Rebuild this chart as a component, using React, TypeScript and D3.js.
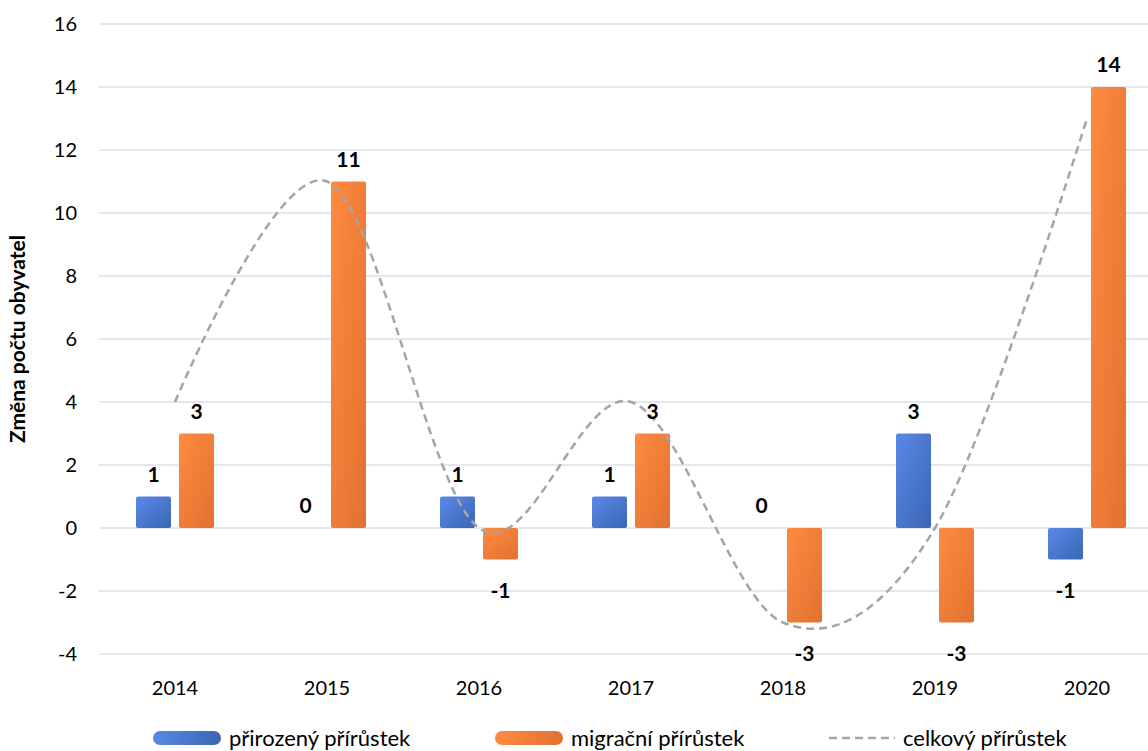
import React from "react";
import * as d3 from "d3";

const years = ["2014", "2015", "2016", "2017", "2018", "2019", "2020"];
const natural = [1, 0, 1, 1, 0, 3, -1];
const migration = [3, 11, -1, 3, -3, -3, 14];
const total = [4, 11, 0, 4, -3, 0, 13];
const yTicks = [-4, -2, 0, 2, 4, 6, 8, 10, 12, 14, 16];
const seriesNames = ["přirozený přírůstek", "migrační přírůstek", "celkový přírůstek"];

const W = 1148;
const H = 751;
const FONT = "Lato, 'Open Sans', sans-serif";

export default function App() {
  const x = d3.scaleBand<string>().domain(years).range([99, 99 + 152 * 7]).padding(0);
  const y = d3.scaleLinear().domain([-4, 16]).range([654, 24]);
  const barW = 35;
  const gap = 8;
  const cx = (yr: string) => (x(yr) as number) + x.bandwidth() / 2;

  const line = d3
    .line<number>()
    .x((_, i) => cx(years[i]))
    .y((d) => y(d))
    .curve(d3.curveCardinal.tension(0));

  const barRect = (v: number, xl: number, grad: string, key: string) => {
    const top = y(Math.max(v, 0));
    const bot = y(Math.min(v, 0));
    const h = bot - top;
    if (h <= 0) return null;
    return <rect key={key} x={xl} y={top} width={barW} height={h} rx={2} fill={`url(#${grad})`} />;
  };

  const label = (v: number, xc: number, key: string) => {
    const yy = v >= 0 ? y(v) - 15 : y(v) + 38;
    return (
      <text key={key} x={xc} y={yy} textAnchor="middle" fontWeight="bold" fontSize={21} fill="#000" fontFamily={FONT}>
        {v}
      </text>
    );
  };

  return (
    <svg width={W} height={H} style={{ position: "absolute", left: 0, top: 0, display: "block" }}>
      <defs>
        <linearGradient id="gBlue" x1="0" y1="0" x2="1" y2="1">
          <stop offset="0" stopColor="#5a88e6" />
          <stop offset="1" stopColor="#3b66b5" />
        </linearGradient>
        <linearGradient id="gOrange" x1="0" y1="0" x2="1" y2="1">
          <stop offset="0" stopColor="#ff8a42" />
          <stop offset="1" stopColor="#e0722f" />
        </linearGradient>
        <linearGradient id="gBlueL" x1="0" y1="0" x2="1" y2="0">
          <stop offset="0" stopColor="#5a88e6" />
          <stop offset="1" stopColor="#3b66b5" />
        </linearGradient>
        <linearGradient id="gOrangeL" x1="0" y1="0" x2="1" y2="0">
          <stop offset="0" stopColor="#ff8a42" />
          <stop offset="1" stopColor="#e0722f" />
        </linearGradient>
      </defs>
      <rect width={W} height={H} fill="#fff" />
      {yTicks.map((t) => (
        <g key={t}>
          <line x1={99} x2={W} y1={y(t)} y2={y(t)} stroke="#dde1e8" strokeWidth={1.5} />
          <text x={77} y={y(t) + 7} textAnchor="end" fontSize={20} fill="#000" fontFamily={FONT}>
            {t}
          </text>
        </g>
      ))}
      {years.map((yr) => (
        <text key={yr} x={cx(yr)} y={695} textAnchor="middle" fontSize={20} fill="#000" fontFamily={FONT}>
          {yr}
        </text>
      ))}
      <text
        transform={`translate(25,${339}) rotate(-90)`}
        textAnchor="middle"
        fontWeight="bold"
        fontSize={21}
        fill="#000"
        fontFamily={FONT}
      >
        Změna počtu obyvatel
      </text>
      {years.map((yr, i) => barRect(natural[i], cx(yr) - gap / 2 - barW, "gBlue", "b" + yr))}
      {years.map((yr, i) => barRect(migration[i], cx(yr) + gap / 2, "gOrange", "o" + yr))}
      <path d={line(total) || ""} fill="none" stroke="#a5a5a5" strokeWidth={2.5} strokeDasharray="8 5" />
      {years.map((yr, i) => label(natural[i], cx(yr) - gap / 2 - barW / 2, "lb" + yr))}
      {years.map((yr, i) => label(migration[i], cx(yr) + gap / 2 + barW / 2, "lo" + yr))}
      {/* legend */}
      <g fontFamily={FONT} fontSize={22} fill="#000">
        <rect x={153} y={731} width={68} height={14} rx={7} fill="url(#gBlueL)" />
        <text x={229} y={746}>{seriesNames[0]}</text>
        <rect x={495} y={731} width={68} height={14} rx={7} fill="url(#gOrangeL)" />
        <text x={571} y={746}>{seriesNames[1]}</text>
        <line x1={829} x2={895} y1={738} y2={738} stroke="#a5a5a5" strokeWidth={2.5} strokeDasharray="8 5" />
        <text x={903} y={746}>{seriesNames[2]}</text>
      </g>
    </svg>
  );
}
